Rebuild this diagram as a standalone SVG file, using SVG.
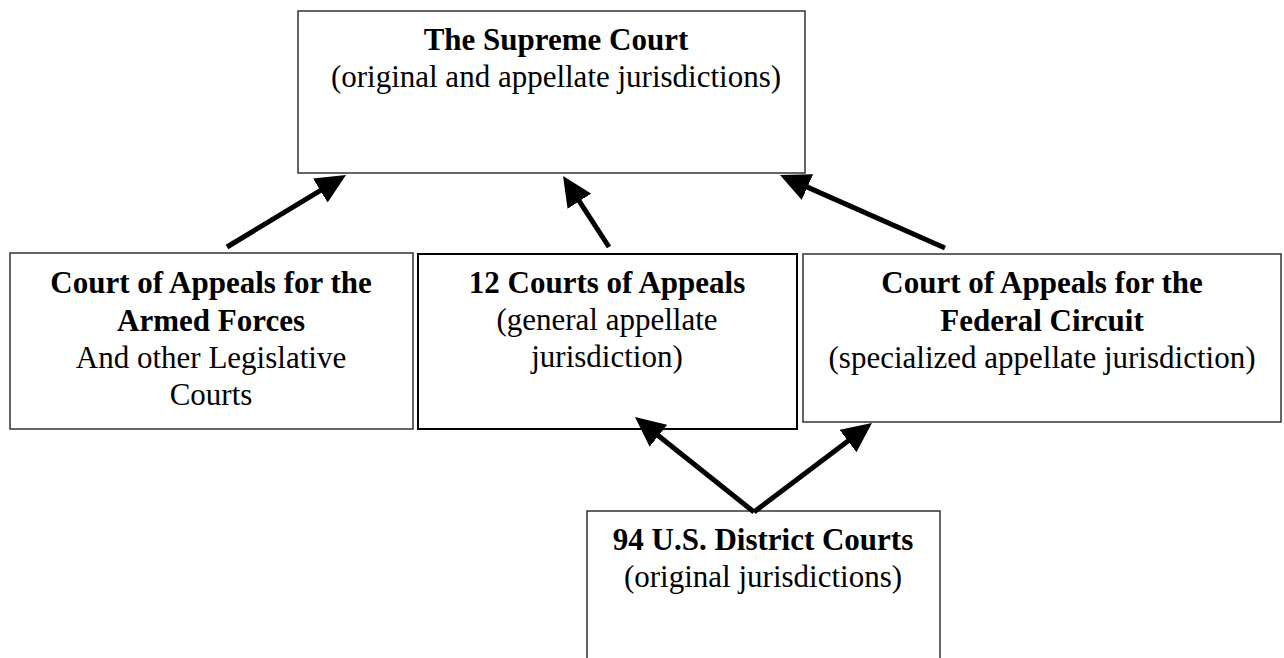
<svg xmlns="http://www.w3.org/2000/svg" width="1284" height="658" viewBox="0 0 1284 658">
<style>
.box{fill:#fff;stroke:#333;stroke-width:1.5}
.box2{fill:#fff;stroke:#000;stroke-width:2}
text{font-family:"Liberation Serif","Times New Roman",serif;font-size:31px;fill:#000;text-anchor:middle}
.b{font-weight:bold}
.edge{stroke:#000;stroke-width:5;fill:none;marker-end:url(#ah)}
</style>
<defs>
<marker id="ah" viewBox="0 0 30 28" refX="10" refY="14" markerWidth="30" markerHeight="28" markerUnits="userSpaceOnUse" orient="auto">
<path d="M0,0 L30,14 L0,28 z" fill="#000"/>
</marker>
</defs>
<rect width="1284" height="658" fill="#fff"/>
<g id="supreme">
<rect class="box" x="298" y="11" width="507" height="162"/>
<text class="b" x="556" y="50">The Supreme Court</text>
<text x="556" y="87">(original and appellate jurisdictions)</text>
</g>
<g id="armed">
<rect class="box" x="10" y="253" width="403" height="176"/>
<text class="b" x="211" y="293">Court of Appeals for the</text>
<text class="b" x="211" y="331">Armed Forces</text>
<text x="211" y="368">And other Legislative</text>
<text x="211" y="405">Courts</text>
</g>
<g id="appeals12">
<rect class="box2" x="418" y="254" width="379" height="175"/>
<text class="b" x="607" y="293">12 Courts of Appeals</text>
<text x="607" y="330">(general appellate</text>
<text x="607" y="367">jurisdiction)</text>
</g>
<g id="federal">
<rect class="box" x="803" y="254" width="478" height="168"/>
<text class="b" x="1042" y="293">Court of Appeals for the</text>
<text class="b" x="1042" y="331">Federal Circuit</text>
<text x="1042" y="368">(specialized appellate jurisdiction)</text>
</g>
<g id="district">
<rect class="box" x="587" y="511" width="353" height="160"/>
<text class="b" x="763" y="550">94 U.S. District Courts</text>
<text x="763" y="587">(original jurisdictions)</text>
</g>
<g id="connectors">
<line class="edge" x1="227" y1="247" x2="328.9" y2="185.4"/>
<line class="edge" x1="609" y1="247" x2="573.9" y2="192.8"/>
<line class="edge" x1="945" y1="248" x2="798.3" y2="183.1"/>
<line class="edge" x1="754" y1="512" x2="650.6" y2="429.5"/>
<line class="edge" x1="754" y1="512" x2="856" y2="435"/>
</g>
</svg>
